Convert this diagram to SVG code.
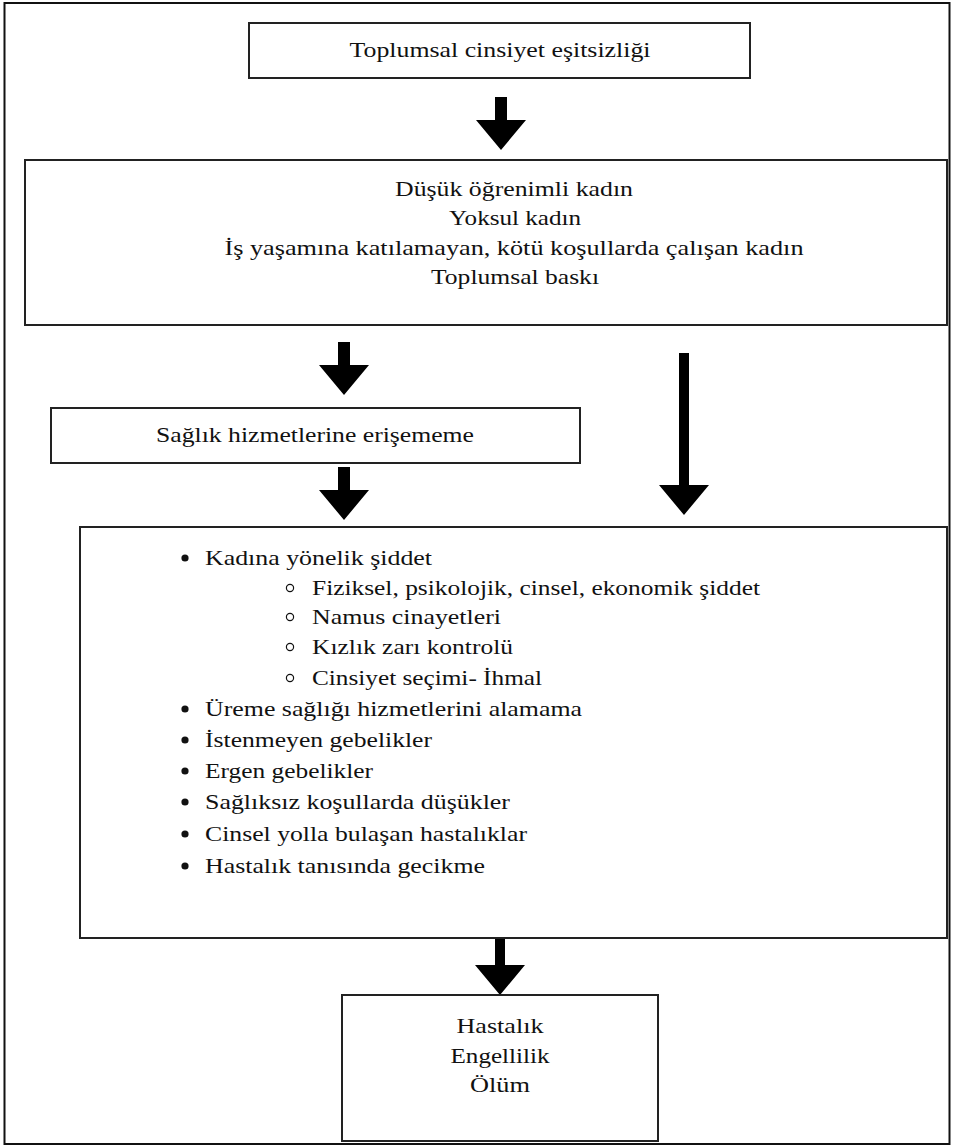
<svg xmlns="http://www.w3.org/2000/svg" width="954" height="1146" viewBox="0 0 954 1146">
<style>
.box{fill:#fff;stroke:#222;stroke-width:2}
.t{font-size:22px;fill:#111}
.c{text-anchor:middle}
.arr{fill:#000}
.dot{fill:#111}
.ring{fill:none;stroke:#111;stroke-width:1.2}
</style>
<rect x="0" y="0" width="954" height="1146" fill="#fff"/>
<rect x="4.5" y="3" width="945" height="1141" fill="none" stroke="#111" stroke-width="2"/>
<g id="connectors">
<path class="arr" d="M495 97H507V120H526L501 150L476 120H495Z"/>
<path class="arr" d="M338 342H350V365H369L344 395L319 365H338Z"/>
<path class="arr" d="M338 467H350V490H369L344 520L319 490H338Z"/>
<path class="arr" d="M679 353H689V485H709L684 515L659 485H679Z"/>
<path class="arr" d="M495 939H505V965H525L500 995L475 965H495Z"/>
</g>
<g font-family="Liberation Serif, DejaVu Serif, serif">
<g id="node-top">
<rect class="box" x="249" y="23" width="501" height="55"/>
<text class="t c" x="500" y="57" textLength="301" lengthAdjust="spacingAndGlyphs">Toplumsal cinsiyet eşitsizliği</text>
</g>
<g id="node-factors">
<rect class="box" x="25" y="160" width="922" height="165"/>
<text class="t c" x="514" y="196" textLength="238" lengthAdjust="spacingAndGlyphs">Düşük öğrenimli kadın</text>
<text class="t c" x="515" y="225" textLength="132" lengthAdjust="spacingAndGlyphs">Yoksul kadın</text>
<text class="t c" x="514" y="255" textLength="579" lengthAdjust="spacingAndGlyphs">İş yaşamına katılamayan, kötü koşullarda çalışan kadın</text>
<text class="t c" x="515" y="284" textLength="168" lengthAdjust="spacingAndGlyphs">Toplumsal baskı</text>
</g>
<g id="node-access">
<rect class="box" x="51" y="408" width="529" height="55"/>
<text class="t c" x="315" y="442" textLength="318" lengthAdjust="spacingAndGlyphs">Sağlık hizmetlerine erişememe</text>
</g>
<g id="node-outcomes">
<rect class="box" x="80" y="527" width="867" height="411"/>
<circle class="dot" cx="185" cy="558" r="3.6"/>
<text class="t" x="205" y="565" textLength="227" lengthAdjust="spacingAndGlyphs">Kadına yönelik şiddet</text>
<circle class="ring" cx="290" cy="588" r="3.6"/>
<text class="t" x="312" y="595" textLength="448" lengthAdjust="spacingAndGlyphs">Fiziksel, psikolojik, cinsel, ekonomik şiddet</text>
<circle class="ring" cx="290" cy="617" r="3.6"/>
<text class="t" x="312" y="624" textLength="189" lengthAdjust="spacingAndGlyphs">Namus cinayetleri</text>
<circle class="ring" cx="290" cy="647" r="3.6"/>
<text class="t" x="312" y="654" textLength="201" lengthAdjust="spacingAndGlyphs">Kızlık zarı kontrolü</text>
<circle class="ring" cx="290" cy="678" r="3.6"/>
<text class="t" x="312" y="685" textLength="230" lengthAdjust="spacingAndGlyphs">Cinsiyet seçimi- İhmal</text>
<circle class="dot" cx="185" cy="709" r="3.6"/>
<text class="t" x="205" y="716" textLength="377" lengthAdjust="spacingAndGlyphs">Üreme sağlığı hizmetlerini alamama</text>
<circle class="dot" cx="185" cy="740" r="3.6"/>
<text class="t" x="205" y="747" textLength="227" lengthAdjust="spacingAndGlyphs">İstenmeyen gebelikler</text>
<circle class="dot" cx="185" cy="771" r="3.6"/>
<text class="t" x="205" y="778" textLength="168" lengthAdjust="spacingAndGlyphs">Ergen gebelikler</text>
<circle class="dot" cx="185" cy="802" r="3.6"/>
<text class="t" x="205" y="809" textLength="305" lengthAdjust="spacingAndGlyphs">Sağlıksız koşullarda düşükler</text>
<circle class="dot" cx="185" cy="834" r="3.6"/>
<text class="t" x="205" y="841" textLength="322" lengthAdjust="spacingAndGlyphs">Cinsel yolla bulaşan hastalıklar</text>
<circle class="dot" cx="185" cy="866" r="3.6"/>
<text class="t" x="205" y="873" textLength="280" lengthAdjust="spacingAndGlyphs">Hastalık tanısında gecikme</text>
</g>
<g id="node-result">
<rect class="box" x="342" y="995" width="316" height="146"/>
<text class="t c" x="500" y="1033" textLength="87" lengthAdjust="spacingAndGlyphs">Hastalık</text>
<text class="t c" x="500" y="1063" textLength="99" lengthAdjust="spacingAndGlyphs">Engellilik</text>
<text class="t c" x="500" y="1092" textLength="60" lengthAdjust="spacingAndGlyphs">Ölüm</text>
</g>
</g>
</svg>
